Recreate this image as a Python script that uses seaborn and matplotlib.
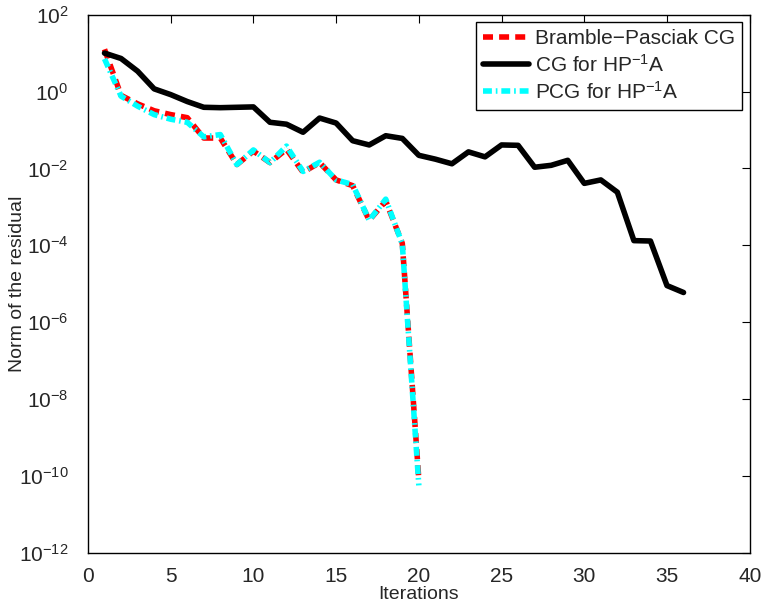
import numpy as np
import pandas as pd
import matplotlib
matplotlib.use("Agg")
import matplotlib.pyplot as plt
import seaborn as sns

# ---- data (log10 of residual norm) ----
iters_bp = list(range(1, 21))
log_bp = [1.10, -0.10, -0.32, -0.50, -0.60, -0.68, -1.21, -1.21, -1.90, -1.55,
          -1.85, -1.50, -2.10, -1.85, -2.30, -2.45, -3.35, -2.85, -3.95, -10.10]

iters_cg = list(range(1, 37))
log_cg = [1.00, 0.86, 0.53, 0.07, -0.08, -0.26, -0.41, -0.42, -0.41, -0.40,
          -0.80, -0.85, -1.06, -0.69, -0.82, -1.28, -1.39, -1.15, -1.22, -1.66,
          -1.76, -1.88, -1.57, -1.70, -1.39, -1.40, -1.97, -1.92, -1.79, -2.39,
          -2.30, -2.62, -3.88, -3.89, -5.05, -5.23]

iters_pcg = list(range(1, 21))
log_pcg = [0.85, -0.12, -0.38, -0.60, -0.72, -0.80, -1.18, -1.12, -1.90, -1.52,
           -1.85, -1.42, -2.08, -1.84, -2.30, -2.42, -3.35, -2.80, -3.97, -10.25]

labels = ["Bramble\u2212Pasciak CG", r"CG for HP$^{-1}$A", r"PCG for HP$^{-1}$A"]

df_bp = pd.DataFrame({"it": iters_bp, "res": 10.0 ** np.array(log_bp)})
df_cg = pd.DataFrame({"it": iters_cg, "res": 10.0 ** np.array(log_cg)})
df_pcg = pd.DataFrame({"it": iters_pcg, "res": 10.0 ** np.array(log_pcg)})

sns.set_style("white")
plt.rcParams["font.family"] = ["Liberation Sans", "DejaVu Sans"]
plt.rcParams["mathtext.fontset"] = "custom"
plt.rcParams["mathtext.rm"] = "Liberation Sans"
plt.rcParams["mathtext.it"] = "Liberation Sans:italic"
plt.rcParams["mathtext.bf"] = "Liberation Sans:bold"

fig = plt.figure(figsize=(7.65, 6.12), dpi=100)
ax = fig.add_axes([0.115, 0.097, 0.865, 0.879])

sns.lineplot(data=df_bp, x="it", y="res", ax=ax, color="#ff0000", lw=4,
             linestyle=(0, (1.8, 1.1)), label=labels[0], sort=False)
sns.lineplot(data=df_cg, x="it", y="res", ax=ax, color="black", lw=4,
             linestyle="-", label=labels[1], sort=False)
sns.lineplot(data=df_pcg, x="it", y="res", ax=ax, color="#00ffff", lw=4,
             linestyle=(0, (1.6, 0.7, 0.3, 0.7)), label=labels[2], sort=False)

ax.set_yscale("log")
ax.set_xlim(0, 40)
ax.set_ylim(1e-12, 1e2)
ax.set_xticks(range(0, 41, 5))
ax.set_yticks([10.0 ** k for k in range(-12, 3, 2)])
ax.yaxis.set_minor_locator(matplotlib.ticker.NullLocator())
ax.tick_params(direction="in", top=True, right=True, labelsize=15,
               length=6, width=0.8, color="black")
ax.tick_params(axis="x", pad=10)
ax.tick_params(axis="y", pad=14)
for s in ax.spines.values():
    s.set_color("black")
    s.set_linewidth(1.0)
ax.set_xlabel("Iterations", fontsize=14, labelpad=0)
ax.set_ylabel("Norm of the residual", fontsize=14)
ax.yaxis.set_label_coords(-0.094, 0.5)

leg = ax.legend(loc="upper right", fontsize=15, frameon=True, fancybox=False,
                edgecolor="black", framealpha=1, handlelength=2.2,
                borderaxespad=0.35, labelspacing=0.25, handletextpad=0.3,
                borderpad=0.35)
leg.get_frame().set_linewidth(1.0)

fig.savefig("out.png", dpi=100)
